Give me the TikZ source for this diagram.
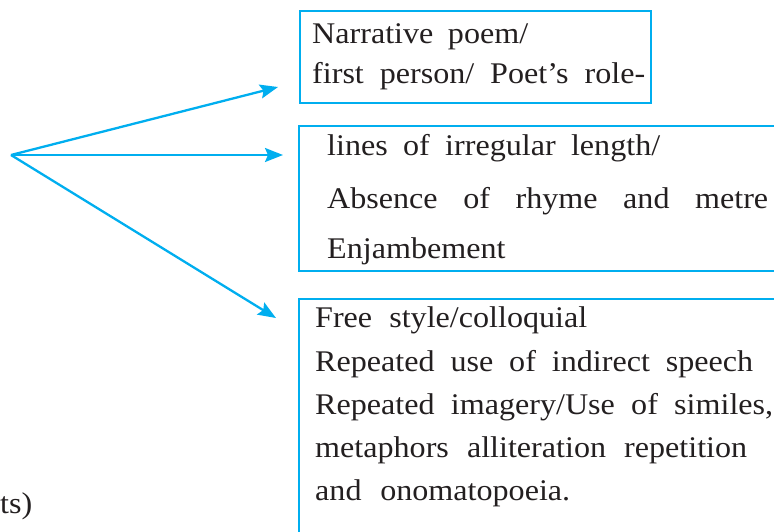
\documentclass[tikz,border=0pt]{standalone}
\usepackage{fontspec}
\setmainfont{Liberation Serif}[FakeStretch=1.07]
\usepackage{xcolor}
\usetikzlibrary{arrows.meta,positioning}
\definecolor{lineblue}{HTML}{00AEEF}
\definecolor{inkgray}{HTML}{231F20}
\newcommand{\jline}[2]{\makebox[#1][s]{#2}}
\tikzset{
  panel/.style={draw=lineblue, line width=2.3pt, inner sep=0pt, anchor=north west},
  txt/.style={anchor=base west, inner sep=0pt, text=inkgray},
  link/.style={draw=lineblue, line width=2.3pt, -{Stealth[length=18pt,width=14pt,inset=3pt]}}
}

\begin{document}
\begin{tikzpicture}[x=1pt, y=-1pt, font=\fontsize{30}{36}\selectfont]
  \useasboundingbox (0,0) rectangle (774,531);
  \begin{scope}
    \clip (0,0) rectangle (774,531);
    \node[panel, minimum width=351pt, minimum height=92pt] (box1) at (299,10) {};
    \node[panel, minimum width=500pt, minimum height=145pt] (box2) at (298,125) {};
    \node[panel, minimum width=500pt, minimum height=280pt] (box3) at (298,298) {};
  \end{scope}

  % first box
  \node[txt] (role1) at (312,43) {\jline{216pt}{Narrative poem/}};
  \node[txt] (role2) at (312,83) {\jline{333pt}{first person/ Poet’s role-}};

  % second box
  \node[txt] (form1) at (327,155) {\jline{333pt}{lines of irregular length/}};
  \node[txt] (form2) at (327,208) {\jline{441pt}{Absence of rhyme and metre}};
  \node[txt] (form3) at (327,258) {Enjambement};

  % third box
  \node[txt] (style1) at (315,327) {\jline{272pt}{Free style/colloquial}};
  \node[txt] (style2) at (315,371) {\jline{438pt}{Repeated use of indirect speech}};
  \node[txt] (style3) at (315,414) {\jline{458pt}{Repeated imagery/Use of similes,}};
  \node[txt] (style4) at (315,457) {\jline{432pt}{metaphors alliteration repetition}};
  \node[txt] (style5) at (315,500) {\jline{255pt}{and onomatopoeia.}};

  \node[txt] (marks) at (0,513) {ts)};

  % arrows
  \coordinate (src) at (11,155);
  \coordinate (tip1) at (278,87);
  \coordinate (tip2) at (283,155);
  \coordinate (tip3) at (276,318);
  \draw[link] (src) -- (tip1);
  \draw[link] (src) -- (tip2);
  \draw[link] (src) -- (tip3);
\end{tikzpicture}
\end{document}
